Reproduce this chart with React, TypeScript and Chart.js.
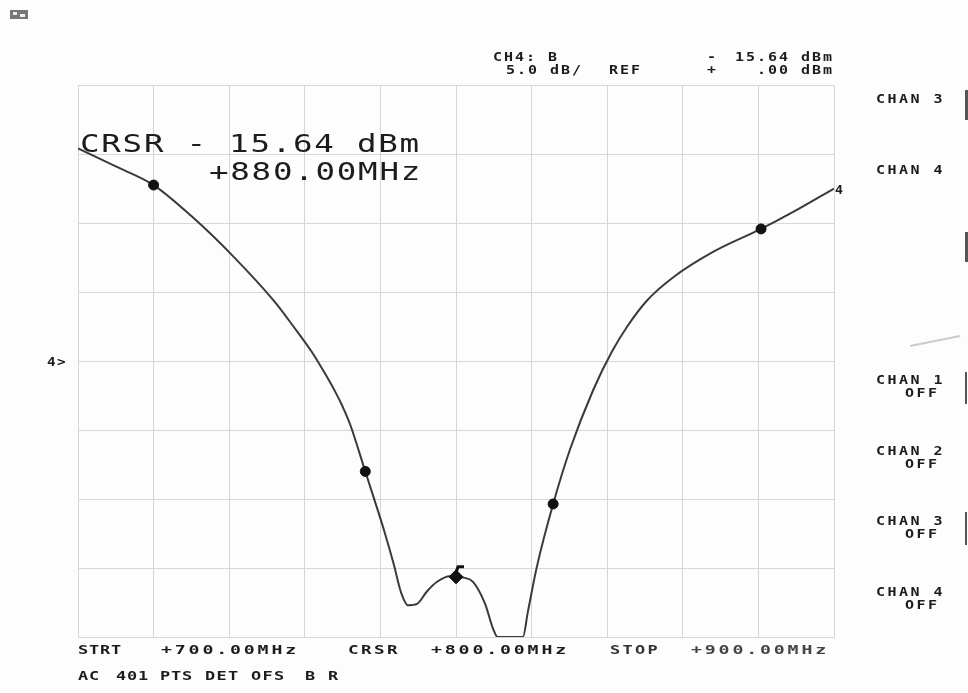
import React, { useEffect, useRef } from "react";
import { Chart, registerables } from "chart.js";

Chart.register(...registerables);

// Trace: frequency (MHz) and level (dBm)
const traceFreq = [700, 710, 720, 730, 741, 752, 757, 762, 765, 768, 770, 772, 776, 778, 781, 783.5, 785.5, 787.3, 789.7, 792.3, 795, 798.4, 800, 802, 804.5, 807.7, 809.8, 811, 814, 817.7, 819, 821.4, 825.7, 830.2, 836.3, 841.3, 845.3, 850.6, 857.4, 868, 880.7, 889.2, 900];
const traceLevel = [15.4, 14.1, 12.75, 10.5, 7.6, 4.3, 2.5, 0.6, -0.75, -2.2, -3.3, -4.6, -8.0, -9.7, -12.3, -14.7, -16.8, -17.7, -17.6, -16.7, -16.0, -15.6, -15.64, -15.7, -16.0, -17.6, -19.4, -20, -20, -20, -18.2, -14.9, -10.36, -6.38, -2.1, 0.7, 2.5, 4.4, 6.05, 7.9, 9.57, 10.8, 12.5];

// Markers on the trace
const markerFreq = [720, 776, 825.7, 880.7];
const markerLevel = [12.75, -8.0, -10.36, 9.57];

// Cursor
const cursorFreq = 800;
const cursorLevel = -15.64;

// Axis settings
const startFreq = 700;
const stopFreq = 900;
const freqStep = 20;
const refLevel = 0;
const dbPerDiv = 5;
const divisionsY = 8;

const MONO = "'DejaVu Sans Mono', 'Liberation Mono', monospace";

// advance = desired px per character, sx = horizontal glyph stretch
function drawText(ctx: CanvasRenderingContext2D, text: string, x: number, y: number, size: number, advance: number, sx: number, color = "#1c1c1c", weight = "bold") {
  ctx.save();
  ctx.translate(x, y);
  ctx.scale(sx, 1);
  ctx.font = `${weight} ${size}px ${MONO}`;
  const natural = ctx.measureText("M").width;
  const spacing = advance / sx - natural;
  (ctx as any).letterSpacing = `${spacing}px`;
  ctx.fillStyle = color;
  ctx.textBaseline = "alphabetic";
  ctx.textAlign = "left";
  ctx.fillText(text, 0, 0);
  ctx.restore();
}

const annotationPlugin = {
  id: "analyzerText",
  afterDraw(chart: any) {
    const ctx: CanvasRenderingContext2D = chart.ctx;
    const xs = chart.scales.x;
    const ys = chart.scales.y;
    // Header
    drawText(ctx, "CH4: B", 493, 61, 12, 11, 1.25);
    drawText(ctx, "5.0 dB/", 506, 74, 12, 11, 1.25);
    drawText(ctx, "REF", 609, 74, 12, 11, 1.25);
    drawText(ctx, "-", 707, 61, 12, 11, 1.25);
    drawText(ctx, "+", 707, 74, 12, 11, 1.25);
    drawText(ctx, "15.64 dBm", 735, 61, 12, 11, 1.25);
    drawText(ctx, ".00 dBm", 757, 74, 12, 11, 1.25);
    // Top-left icon
    ctx.save();
    ctx.fillStyle = "#777";
    ctx.fillRect(10, 10, 18, 9);
    ctx.fillStyle = "#eee";
    ctx.fillRect(13, 12, 4, 3);
    ctx.fillRect(20, 14, 5, 3);
    ctx.restore();
    // Cursor readout
    drawText(ctx, "CRSR - 15.64 dBm", 80, 152, 25, 21.3, 1.3, "#1c1c1c", "normal");
    drawText(ctx, "+880.00MHz", 209, 180, 25, 21.3, 1.3, "#1c1c1c", "normal");
    // Reference marker
    const yRef = ys.getPixelForValue(refLevel);
    drawText(ctx, "4>", 47, yRef + 5, 13, 10, 1.1);
    // Channel label at trace end
    const xEnd = xs.getPixelForValue(traceFreq[traceFreq.length - 1]);
    const yEnd = ys.getPixelForValue(traceLevel[traceLevel.length - 1]);
    drawText(ctx, "4", xEnd + 1, yEnd + 5, 12, 9, 1.1);
    // Cursor flag above diamond
    const cx = xs.getPixelForValue(cursorFreq);
    const cy = ys.getPixelForValue(cursorLevel);
    ctx.save();
    ctx.strokeStyle = "#111";
    ctx.lineWidth = 3;
    ctx.beginPath();
    ctx.moveTo(cx, cy - 4);
    ctx.lineTo(cx + 2, cy - 10);
    ctx.lineTo(cx + 8, cy - 10);
    ctx.stroke();
    ctx.restore();
    // Bottom lines
    drawText(ctx, "STRT", 78, 654, 13, 11, 1.3);
    drawText(ctx, "+700.00MHz", 161, 654, 13, 13.8, 1.4);
    drawText(ctx, "CRSR", 348, 654, 13, 13, 1.35);
    drawText(ctx, "+800.00MHz", 431, 654, 13, 13.8, 1.4);
    drawText(ctx, "STOP", 610, 654, 13, 12.5, 1.3, "#333");
    drawText(ctx, "+900.00MHz", 691, 654, 13, 13.8, 1.4, "#444");
    drawText(ctx, "AC", 78, 680, 13, 11, 1.3);
    drawText(ctx, "401 PTS", 116, 680, 13, 11, 1.3);
    drawText(ctx, "DET OFS", 205, 680, 13, 11.5, 1.3);
    drawText(ctx, "B R", 305, 680, 13, 11.5, 1.3);
    // Right-hand channel panel
    const chanX = 876;
    const offX = 905;
    drawText(ctx, "CHAN 3", chanX, 103, 12, 11.5, 1.25);
    drawText(ctx, "CHAN 4", chanX, 174, 12, 11.5, 1.25);
    drawText(ctx, "CHAN 1", chanX, 384, 12, 11.5, 1.25);
    drawText(ctx, "OFF", offX, 397, 12, 11.5, 1.25);
    drawText(ctx, "CHAN 2", chanX, 455, 12, 11.5, 1.25);
    drawText(ctx, "OFF", offX, 468, 12, 11.5, 1.25);
    drawText(ctx, "CHAN 3", chanX, 525, 12, 11.5, 1.25);
    drawText(ctx, "OFF", offX, 538, 12, 11.5, 1.25);
    drawText(ctx, "CHAN 4", chanX, 596, 12, 11.5, 1.25);
    drawText(ctx, "OFF", offX, 609, 12, 11.5, 1.25);
    ctx.save();
    ctx.fillStyle = "#555";
    ctx.fillRect(965, 90, 3, 30);
    ctx.fillRect(965, 232, 3, 30);
    ctx.fillRect(965, 372, 2, 32);
    ctx.fillRect(965, 512, 2, 33);
    ctx.strokeStyle = "#ccc";
    ctx.lineWidth = 2;
    ctx.beginPath();
    ctx.moveTo(910, 346);
    ctx.lineTo(960, 336);
    ctx.stroke();
    ctx.restore();
  },
};

export default function App() {
  const ref = useRef<HTMLCanvasElement | null>(null);
  useEffect(() => {
    if (!ref.current) return;
    const yMin = refLevel - (dbPerDiv * divisionsY) / 2;
    const yMax = refLevel + (dbPerDiv * divisionsY) / 2;
    const chart = new Chart(ref.current, {
      type: "line",
      data: {
        datasets: [
          {
            data: traceFreq.map((f, i) => ({ x: f, y: traceLevel[i] })),
            borderColor: "#3a3a3a",
            borderWidth: 2,
            pointRadius: 0,
            cubicInterpolationMode: "monotone",
            fill: false,
            order: 3,
          },
          {
            data: markerFreq.map((f, i) => ({ x: f, y: markerLevel[i] })),
            showLine: false,
            pointRadius: 5,
            pointBackgroundColor: "#111",
            pointBorderColor: "#111",
            order: 1,
          },
          {
            data: [{ x: cursorFreq, y: cursorLevel }],
            showLine: false,
            pointStyle: "rectRot",
            pointRadius: 7,
            pointBackgroundColor: "#111",
            pointBorderColor: "#111",
            order: 0,
          },
        ],
      },
      options: {
        animation: false,
        responsive: false,
        devicePixelRatio: 1,
        layout: { padding: { left: 78, right: 134, top: 85, bottom: 56 } },
        plugins: { legend: { display: false }, tooltip: { enabled: false } },
        scales: {
          x: {
            type: "linear",
            min: startFreq,
            max: stopFreq,
            ticks: { display: false, stepSize: freqStep },
            grid: { color: "#d6d6d6", lineWidth: 1, drawTicks: false },
            border: { display: true, color: "#d6d6d6" },
          },
          y: {
            type: "linear",
            min: yMin,
            max: yMax,
            ticks: { display: false, stepSize: dbPerDiv },
            grid: { color: "#d6d6d6", lineWidth: 1, drawTicks: false },
            border: { display: true, color: "#d6d6d6" },
          },
        },
      },
      plugins: [annotationPlugin],
    } as any);
    return () => chart.destroy();
  }, []);
  return (
    <div style={{ position: "absolute", left: 0, top: 0, width: 968, height: 693, background: "#fdfdfd" }}>
      <canvas ref={ref} width={968} height={693} style={{ width: 968, height: 693, display: "block" }} />
    </div>
  );
}
